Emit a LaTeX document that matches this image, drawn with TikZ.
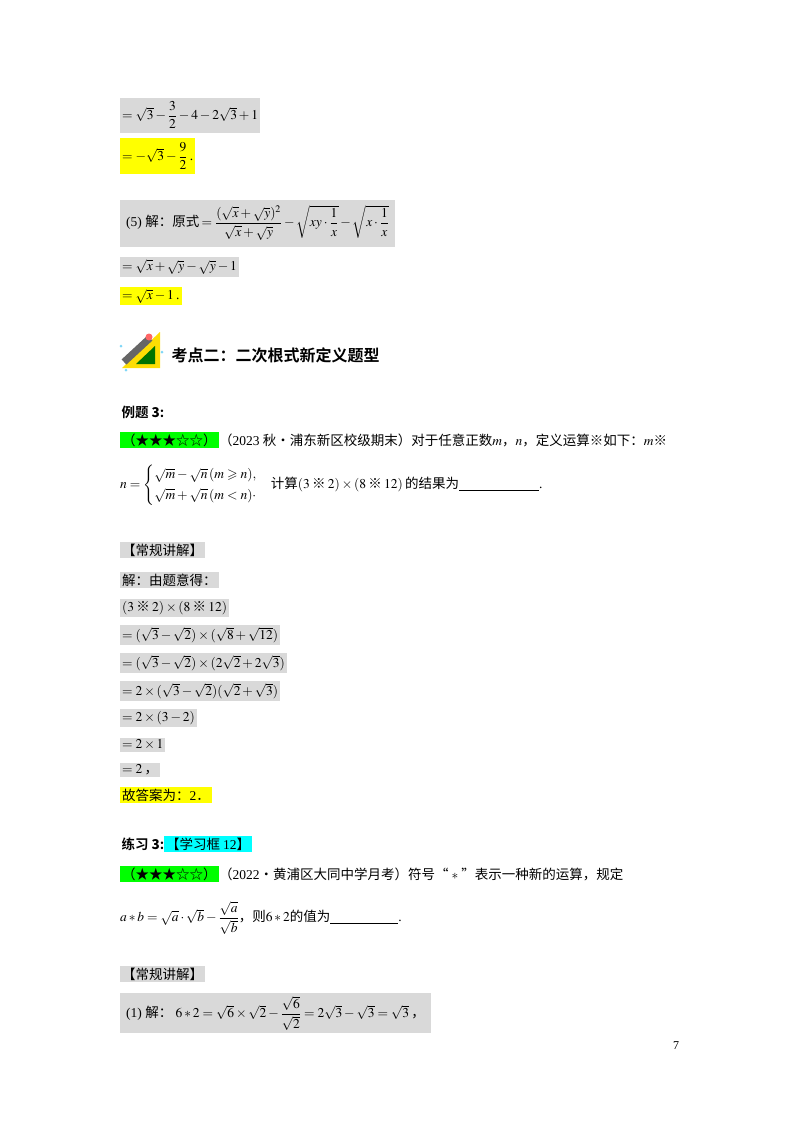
\documentclass[tikz,border=0pt]{standalone}
\usepackage{amsmath,amssymb}
\usepackage{mathptmx}
\usepackage[no-math]{fontspec}
\setmainfont{Liberation Serif}
\newfontfamily\cjk{Noto Sans CJK SC}
\newfontfamily\cjkb{Noto Sans CJK SC Bold}
\definecolor{gbox}{HTML}{D9D9D9}
\definecolor{ybox}{HTML}{FFFF00}
\definecolor{grn}{HTML}{00FF00}
\definecolor{cyn}{HTML}{00FFFF}
\newcommand{\hz}[1]{{\cjk #1}}
\begin{document}
\begin{tikzpicture}[x=1pt,y=-1pt,
  every node/.style={font=\fontsize{13.5}{17}\selectfont},
  ln/.style={anchor=west,inner xsep=2pt,inner ysep=2pt},
  gb/.style={ln,fill=gbox},
  yb/.style={ln,fill=ybox},
  grb/.style={ln,fill=grn},
  cb/.style={ln,fill=cyn}]
\useasboundingbox (0,0) rectangle (800,1132);
\node[gb,minimum height=35] (a1) at (120,115) {$=\sqrt{3}-\dfrac{3}{2}-4-2\sqrt{3}+1$};
\node[yb,minimum height=36] (a2) at (120,156) {$=-\sqrt{3}-\dfrac{9}{2}$\,.};
\node[gb,minimum height=47,inner xsep=6pt] (a3) at (120,223) {(5)\ \hz{解：原式}\,$=\dfrac{(\sqrt{x}+\sqrt{y})^2}{\sqrt{x}+\sqrt{y}}-\sqrt{xy\cdot\dfrac{1}{x}}-\sqrt{x\cdot\dfrac{1}{x}}$};
\node[gb] (a4) at (120,267) {$=\sqrt{x}+\sqrt{y}-\sqrt{y}-1$};
\node[yb] (a5) at (120,296) {$=\sqrt{x}-1$\,.};
% icon
\begin{scope}[shift={(140,352)}]
\fill[yellow!80!orange] (-18,16) -- (20,16) -- (20,-20) -- cycle;
\fill[green!45!black] (-4,12) -- (15,12) -- (15,-6) -- cycle;
\draw[line width=7pt,gray!80!black] (-16,10) -- (10,-14);
\fill[red!60] (9,-15) circle (3.5);
\fill[cyan!50] (-19,-6) circle (1.5) (22,0) circle (1.5) (-14,18) circle (1.5);
\end{scope}
\node[anchor=west,font=\fontsize{16}{18}\selectfont] (h1) at (168,355) {\cjkb 考点二：二次根式新定义题型};
\node[anchor=west] (e3) at (118,412) {\cjkb 例题 \textbf{3}:};
\node[grb] (g1) at (120,440) {\hz{（★★★☆☆）}};
\node[anchor=west,inner sep=0] (t1) at (g1.east) {\hz{（}2023 \hz{秋•浦东新区校级期末）对于任意正数}$m$\hz{，}$n$\hz{，定义运算※如下：}$m$\hz{※}};
\node[anchor=west,inner sep=0] (t2) at (120,485) {$n=\begin{cases}\sqrt{m}-\sqrt{n}\,(m\geqslant n),\\ \sqrt{m}+\sqrt{n}\,(m<n)\cdot\end{cases}$\hz{计算}$(3$\,\hz{※}\,$2)\times(8$\,\hz{※}\,$12)$\,\hz{的结果为}\underline{\hspace{80pt}}.};
\node[gb] (c1) at (120,550) {\hz{【常规讲解】}};
\node[gb] (s1) at (120,580) {\hz{解：由题意得：}};
\node[gb] (s2) at (120,608) {$(3$\,\hz{※}\,$2)\times(8$\,\hz{※}\,$12)$};
\node[gb] (s3) at (120,635) {$=(\sqrt{3}-\sqrt{2})\times(\sqrt{8}+\sqrt{12})$};
\node[gb] (s4) at (120,663) {$=(\sqrt{3}-\sqrt{2})\times(2\sqrt{2}+2\sqrt{3})$};
\node[gb] (s5) at (120,691) {$=2\times(\sqrt{3}-\sqrt{2})(\sqrt{2}+\sqrt{3})$};
\node[gb] (s6) at (120,718) {$=2\times(3-2)$};
\node[gb] (s7) at (120,745) {$=2\times1$};
\node[gb] (s8) at (120,770) {$=2$\,\hz{，}};
\node[yb] (s9) at (120,795) {\hz{故答案为：}2\hz{．}};
\node[anchor=west] (p3) at (118,844) {\cjkb 练习 \textbf{3}:};
\node[cb] (k1) at (164,844) {\hz{【学习框 }12\hz{】}};
\node[grb] (g2) at (120,874) {\hz{（★★★☆☆）}};
\node[anchor=west,inner sep=0] (t3) at (g2.east) {\hz{（}2022\hz{•黄浦区大同中学月考）符号“ }$*$\hz{ ”表示一种新的运算，规定}};
\node[anchor=west,inner sep=0] (t4) at (120,918) {$a*b=\sqrt{a}\cdot\sqrt{b}-\dfrac{\sqrt{a}}{\sqrt{b}}$\hz{，则}$6*2$\hz{的值为}\underline{\hspace{68pt}}.};
\node[gb] (c2) at (120,974) {\hz{【常规讲解】}};
\node[gb,minimum height=40,inner xsep=6pt] (r1) at (120,1013) {(1)\ \hz{解：}\ $6*2=\sqrt{6}\times\sqrt{2}-\dfrac{\sqrt{6}}{\sqrt{2}}=2\sqrt{3}-\sqrt{3}=\sqrt{3}$\,\hz{，}};
\node[font=\fontsize{12}{14}\selectfont] (pn) at (676,1046) {7};
\end{tikzpicture}
\end{document}
